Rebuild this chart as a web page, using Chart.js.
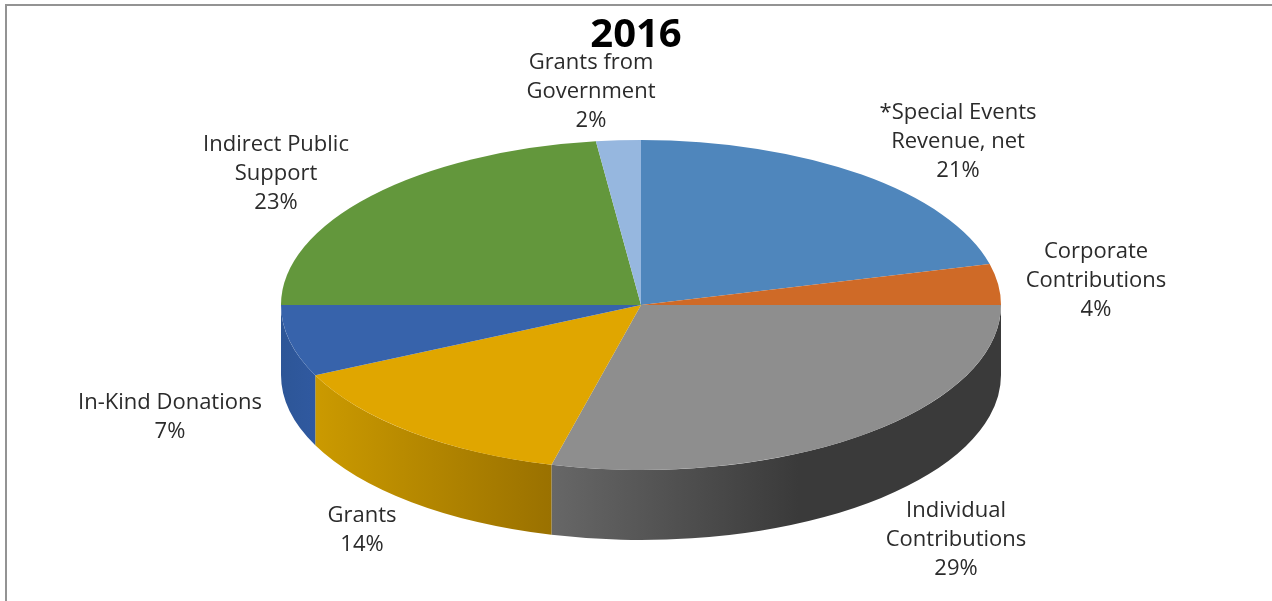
<!DOCTYPE html>
<html>
<head>
<meta charset="utf-8">
<title>2016</title>
<script src="https://cdn.jsdelivr.net/npm/chart.js@4"></script>
<style>
    html, body { margin: 0; background: #fff; overflow: hidden; }
    #frame { position: absolute; left: 5px; top: 4px; right: 0; bottom: 0; border-left: 2px solid #939393; border-top: 2px solid #939393; }
    canvas { position: absolute; left: 0; top: 0; }
</style>
</head>
<body>
<div id="frame"></div>
<canvas id="revenueChart" width="1272" height="601"></canvas>
<script>
// Revenue sources, percent of total
const chartTitle = "2016";
const categories = [
    ["*Special Events", "Revenue, net"],
    ["Corporate", "Contributions"],
    ["Individual", "Contributions"],
    ["Grants"],
    ["In-Kind Donations"],
    ["Indirect Public", "Support"],
    ["Grants from", "Government"],
];
const shares = [21, 4, 29, 14, 7, 23, 2];

// Slice colours and the left/right shades of the rim
const topColors = ["#4f86bc", "#cf6a27", "#8e8e8e", "#e0a600", "#3763ab", "#63973c", "#96b7df"];
const rimColors = [
    ["#4f86bc", "#4f86bc"],
    ["#cf6a27", "#cf6a27"],
    ["#676767", "#3a3a3a"],
    ["#cb9a00", "#9a7100"],
    ["#2d5697", "#3059a0"],
    ["#63973c", "#63973c"],
    ["#96b7df", "#96b7df"],
];

// Centre of each label block
const labelCentres = [
    [958, 142], [1096, 281], [956, 540], [362, 530], [170, 417], [276, 174], [591, 92],
];

const rimDepth = 70;
const labelFont = '22px "Open Sans"';
const labelLineHeight = 29;

// Tilts the flat pie into an ellipse and puts a rim under it
const tiltedPie = {
    id: "tiltedPie",
    beforeDatasetsDraw(chart) {
        const { ctx, chartArea } = chart;
        const arcs = chart.getDatasetMeta(0).data;
        const cx = arcs[0].x, cy = arcs[0].y;
        const rx = chartArea.width / 2, ry = chartArea.height / 2;

        // rim first, only the part facing the viewer
        arcs.forEach((arc, i) => {
            const from = Math.max(arc.startAngle, 0);
            const to = Math.min(arc.endAngle, Math.PI);
            if (to <= from) return;
            const x1 = cx + rx * Math.cos(from), x2 = cx + rx * Math.cos(to);
            const grad = ctx.createLinearGradient(Math.min(x1, x2), 0, Math.max(x1, x2), 0);
            grad.addColorStop(0, rimColors[i][0]);
            grad.addColorStop(i === 2 ? 0.55 : 1, rimColors[i][1]);
            grad.addColorStop(1, rimColors[i][1]);
            ctx.beginPath();
            ctx.ellipse(cx, cy, rx, ry, 0, from, to);
            ctx.ellipse(cx, cy + rimDepth, rx, ry, 0, to, from, true);
            ctx.closePath();
            ctx.fillStyle = grad;
            ctx.fill();
        });

        ctx.save();
        ctx.translate(cx, cy);
        ctx.scale(rx / ry, 1);
        ctx.translate(-cx, -cy);
    },
    afterDatasetsDraw(chart) {
        chart.ctx.restore();
    },
    afterDraw(chart) {
        const ctx = chart.ctx;
        ctx.save();
        ctx.textAlign = "center";
        ctx.textBaseline = "middle";

        ctx.font = 'bold 40px "Open Sans"';
        ctx.fillStyle = "#000";
        ctx.fillText(chartTitle, 636, 36);

        ctx.font = labelFont;
        ctx.fillStyle = "#2b2b2b";
        categories.forEach((lines, i) => {
            const rows = [...lines, shares[i] + "%"];
            const top = labelCentres[i][1] - (rows.length - 1) * labelLineHeight / 2;
            rows.forEach((row, r) => ctx.fillText(row, labelCentres[i][0], top + r * labelLineHeight));
        });
        ctx.restore();
    },
};

new Chart(document.getElementById("revenueChart"), {
    type: "pie",
    data: {
        labels: categories.map((c) => c.join(" ")),
        datasets: [{
            data: shares,
            backgroundColor: topColors,
            borderWidth: 0,
            hoverOffset: 0,
        }],
    },
    options: {
        responsive: false,
        animation: false,
        layout: { padding: { left: 281, right: 271, top: 140, bottom: 131 } },
        plugins: {
            legend: { display: false },
            tooltip: { enabled: false },
        },
    },
    plugins: [tiltedPie],
});
</script>
</body>
</html>
